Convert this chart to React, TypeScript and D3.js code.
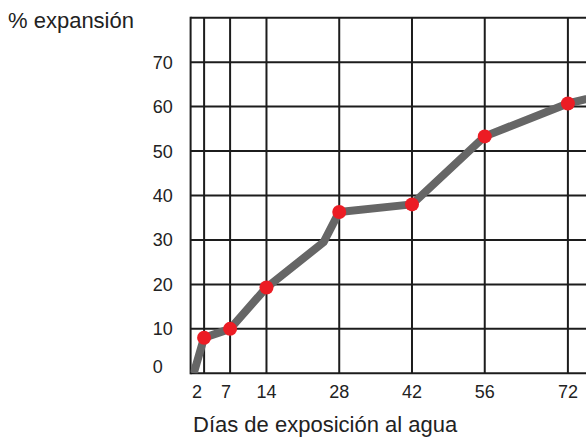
import React from "react";
import { scaleLinear, line } from "d3";

// dias de exposicion y % de expansion
const dayTicks = [2, 7, 14, 28, 42, 56, 72];
const pctTicks = [0, 10, 20, 30, 40, 50, 60, 70];
const lineDays = [0, 2, 7, 14, 25, 28, 42, 56, 72, 84];
const lineValues = [0, 8, 10, 19.3, 29.5, 36.3, 38, 53.3, 60.7, 64];
const markerDays = [2, 7, 14, 28, 42, 56, 72];
const markerValues = [8, 10, 19.3, 36.3, 38, 53.3, 60.7];

const W = 586;
const H = 437;
const frameLeft = 190.6;
const frameTop = 17.7;
const frameBottom = 373.3;

export default function App() {
  const x = scaleLinear().domain([-0.6, 72]).range([frameLeft, 567.9]);
  const y = scaleLinear().domain([0, 80]).range([frameBottom, frameTop]);

  const pts: [number, number][] = lineDays.map((d, i) => [x(d), y(lineValues[i])]);
  const path = line()(pts) || "";
  const font = "'Liberation Sans', Arial, Helvetica, sans-serif";

  return (
    <div style={{ position: "absolute", left: 0, top: 0 }}>
      <svg width={W} height={H} style={{ display: "block", background: "white" }}>
        <defs>
          <clipPath id="plot">
            <rect x={frameLeft} y={frameTop} width={W - frameLeft} height={frameBottom - frameTop} />
          </clipPath>
        </defs>

        {/* grid */}
        <g stroke="#1c1c1c" strokeWidth={2}>
          {pctTicks.concat([80]).map((v) => (
            <line key={"h" + v} x1={frameLeft} x2={W} y1={y(v)} y2={y(v)} />
          ))}
          <line x1={frameLeft} x2={frameLeft} y1={frameTop - 1} y2={frameBottom + 1} />
          {dayTicks.map((d) => (
            <line key={"v" + d} x1={x(d)} x2={x(d)} y1={frameTop} y2={frameBottom} />
          ))}
        </g>

        <g clipPath="url(#plot)">
          <path d={path} fill="none" stroke="#666666" strokeWidth={8} strokeLinejoin="round" />
        </g>
        {markerDays.map((d, i) => (
          <circle key={d} cx={x(d)} cy={y(markerValues[i])} r={7} fill="#ec1c24" />
        ))}

        <g fontFamily={font} fontSize={18} fill="#222">
          {pctTicks.map((v) => (
            <text key={"yl" + v} x={152.7} y={Math.min(y(v) + 6.5, frameBottom)}>
              {v}
            </text>
          ))}
          {dayTicks.map((d) => (
            <text key={"xl" + d} x={x(d) - (d === 2 ? 7 : d === 7 ? 4 : 0)} y={398} textAnchor="middle">
              {d}
            </text>
          ))}
        </g>
        <text x={8} y={28} fontFamily={font} fontSize={22} fill="#222">
          % expansión
        </text>
        <text x={193} y={431.5} fontFamily={font} fontSize={22} fill="#222">
          Días de exposición al agua
        </text>
      </svg>
    </div>
  );
}
